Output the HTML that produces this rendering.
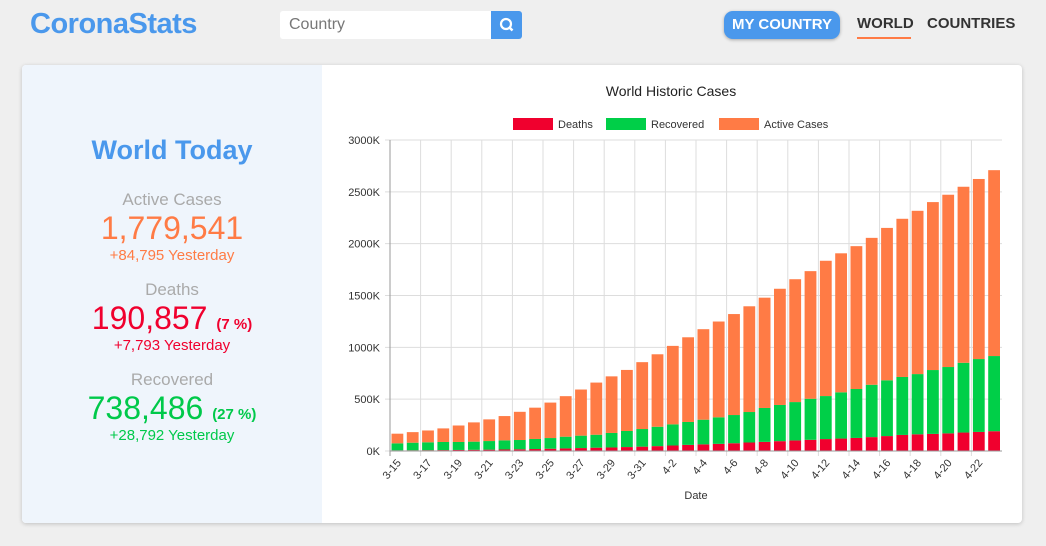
<!DOCTYPE html>
<html><head><meta charset="utf-8"><style>
body{margin:0;width:1046px;height:546px;background:#efefef;font-family:"Liberation Sans",sans-serif;position:relative;overflow:hidden}
.abs{position:absolute}
.logo{left:30px;top:8px;font-size:29px;color:#4a98ec;font-weight:bold;letter-spacing:-0.5px}
.search{left:280px;top:11px;width:211px;height:28px;background:#fff;border-radius:3px 0 0 3px;font-size:16px;color:#777;line-height:28px;padding-left:9px;box-sizing:border-box}
.sbtn{left:491px;top:11px;width:31px;height:28px;background:#4a98ec;border-radius:0 3px 3px 0}
.myc{left:724px;top:11px;width:116px;height:28px;background:#4a98ec;border-radius:9px;color:#fff;font-weight:bold;font-size:15px;line-height:28px;text-align:center;box-shadow:0 1px 3px rgba(0,0,0,.3)}
.nav{top:15px;font-size:15px;font-weight:bold;color:#333}
.card{left:22px;top:65px;width:1000px;height:458px;background:#fff;border-radius:4px;box-shadow:0 1px 4px rgba(0,0,0,.2)}
.left{left:22px;top:65px;width:300px;height:458px;background:#eff5fc;border-radius:4px 0 0 4px;text-align:center}
.left div{position:absolute;width:300px;left:0}
</style></head><body>
<div class="abs logo">CoronaStats</div>
<div class="abs search">Country</div>
<div class="abs sbtn"><svg width="31" height="28"><circle cx="15" cy="13" r="5" fill="none" stroke="#fff" stroke-width="2.2"/><line x1="18.5" y1="16.5" x2="21.5" y2="19.5" stroke="#fff" stroke-width="2.5"/></svg></div>
<div class="abs myc">MY COUNTRY</div>
<div class="abs nav" style="left:857px">WORLD</div>
<div class="abs" style="left:857px;top:37px;width:54px;height:2px;background:#ff7b45"></div>
<div class="abs nav" style="left:927px">COUNTRIES</div>
<div class="abs card"></div>
<div class="abs left">
 <div style="top:70px;font-size:27px;color:#4a98ec;font-weight:bold">World Today</div>
 <div style="top:125px;font-size:17px;color:#aaa">Active Cases</div>
 <div style="top:145px;font-size:32px;color:#ff7b45">1,779,541</div>
 <div style="top:182px;font-size:15px;color:#ff7b45">+84,795 Yesterday</div>
 <div style="top:215px;font-size:17px;color:#aaa">Deaths</div>
 <div style="top:235px;font-size:32px;color:#f0002e">190,857 <span style="font-size:15px;font-weight:bold">(7 %)</span></div>
 <div style="top:272px;font-size:15px;color:#f0002e">+7,793 Yesterday</div>
 <div style="top:305px;font-size:17px;color:#aaa">Recovered</div>
 <div style="top:325px;font-size:32px;color:#00c94a">738,486 <span style="font-size:15px;font-weight:bold">(27 %)</span></div>
 <div style="top:362px;font-size:15px;color:#00c94a">+28,792 Yesterday</div>
</div>
<svg id="chart" class="abs" style="left:0;top:0" width="1046" height="546"></svg>
<script>
const categories=["3-15","3-16","3-17","3-18","3-19","3-20","3-21","3-22","3-23","3-24","3-25","3-26","3-27","3-28","3-29","3-30","3-31","4-1","4-2","4-3","4-4","4-5","4-6","4-7","4-8","4-9","4-10","4-11","4-12","4-13","4-14","4-15","4-16","4-17","4-18","4-19","4-20","4-21","4-22","4-23"];
const deaths=[6.5,7.1,7.9,8.8,10,11.4,13,14.6,16.5,19,22,24.9,28.3,32,34,38,42,47,53,59,64,69,75,82,88,95,102,108,115,120,126,134,144,155,161,165,170,178,184,191];
const recovered=[67.5,72.9,76.1,78.2,77,78.6,83,88.4,89.5,97,103,113.1,119.7,125,140,155,170,187,204,221,238,256,272,294,327,349,370,396,415,446,472,505,538,559,581,616,640,673,703,725];
const active=[93,102,114,131,159,186,209,234,272,302,342,391,445,503,546,589,645,699,757,817,873,924,974,1020,1064,1121,1185,1231,1305,1341,1378,1417,1470,1526,1575,1620,1662,1698,1737,1793];
const yTicks=[0,500,1000,1500,2000,2500,3000];
const series=[["Deaths",deaths,"#f0002e"],["Recovered",recovered,"#00cf48"],["Active Cases",active,"#ff7b45"]];
const svg=document.getElementById('chart');
const NS="http://www.w3.org/2000/svg";
const X0=390,X1=1002,Y0=451,Y1=140,YMAX=3000;
const band=(X1-X0)/categories.length;
const xs=i=>X0+i*band;
const ys=v=>Y0-(v/YMAX)*(Y0-Y1);
function mk(t,a,p){const e=document.createElementNS(NS,t);for(const k in a)e.setAttribute(k,a[k]);(p||svg).appendChild(e);return e;}
let t=mk('text',{x:671,y:96,'text-anchor':'middle','font-size':14,fill:'#222','font-family':'Liberation Sans'});t.textContent="World Historic Cases";


const legX=[513,606,719];
series.forEach((s,k)=>{
 const g=mk('g',{});
 
 
 mk('rect',{x:legX[k],y:118,width:40,height:12,fill:s[2]},g);
 const tt=mk('text',{x:legX[k]+45,y:128,'font-size':11,fill:'#333'},g);tt.textContent=s[0];
});
yTicks.forEach(v=>{
 const l=mk('line',{x1:X0-5,x2:X1,y1:ys(v),y2:ys(v),stroke:'#ddd'});
 
 
 const tx=mk('text',{x:X0-10,y:ys(v)+4,'text-anchor':'end','font-size':11,fill:'#333'});tx.textContent=v+'K';
 
 
});
categories.forEach((c,i)=>{
 if(i%2==0){
  const l=mk('line',{x1:xs(i),x2:xs(i),y1:Y1,y2:Y0+5,stroke:i==0?'#999':'#ddd'});
  
  
  const cx=xs(i)+band/2+4;
  const tx=mk('text',{x:cx,y:Y0+12,'text-anchor':'end','font-size':11,fill:'#333',transform:`rotate(-50 ${cx} ${Y0+12})`});tx.textContent=c;
  
  
 }
 let base=0;
 series.forEach(s=>{
  const v=s[1][i];
  const r=mk('rect',{x:xs(i)+1.5,width:band-3.5,y:ys(base+v),height:ys(base)-ys(base+v),fill:s[2]});
  
  
  base+=v;
 });
});
const ax=mk('line',{x1:X0,x2:X1,y1:Y0,y2:Y0,stroke:'#999'});


t=mk('text',{x:696,y:499,'text-anchor':'middle','font-size':11,fill:'#333'});t.textContent="Date";


</script>
</body></html>
